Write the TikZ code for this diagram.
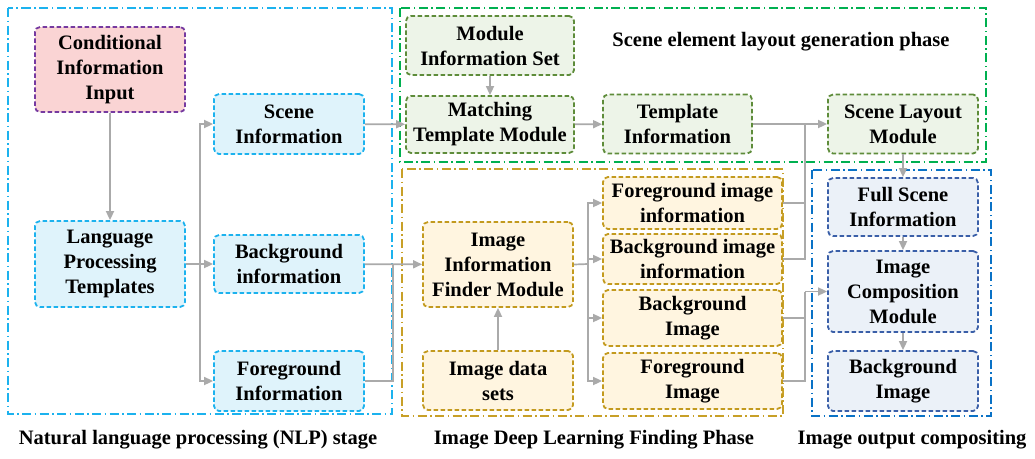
\documentclass[tikz,border=0pt]{standalone}
\usepackage{fontspec}
\setmainfont{Liberation Serif}
\usetikzlibrary{arrows.meta}
\definecolor{nlpline}{RGB}{28,178,238}
\definecolor{nlpfill}{RGB}{223,243,251}
\definecolor{condline}{RGB}{118,58,160}
\definecolor{condfill}{RGB}{250,212,212}
\definecolor{grnframe}{RGB}{0,176,80}
\definecolor{grnline}{RGB}{94,140,58}
\definecolor{grnfill}{RGB}{237,244,232}
\definecolor{ylwframe}{RGB}{200,160,40}
\definecolor{ylwline}{RGB}{195,154,30}
\definecolor{ylwfill}{RGB}{255,245,224}
\definecolor{bluframe}{RGB}{10,114,198}
\definecolor{bluline}{RGB}{58,95,168}
\definecolor{blufill}{RGB}{235,241,248}
\definecolor{conn}{RGB}{170,170,170}
\tikzset{
  txt/.style={font=\bfseries\fontsize{20.5}{25}\selectfont, align=center},
  block/.style={txt, rounded corners=5pt, line width=1.8pt,
    dash pattern=on 4.5pt off 2.5pt, inner sep=0pt},
  nlpbox/.style={block, draw=nlpline, fill=nlpfill},
  condbox/.style={block, draw=condline, fill=condfill},
  grnbox/.style={block, draw=grnline, fill=grnfill},
  ylwbox/.style={block, draw=ylwline, fill=ylwfill},
  blubox/.style={block, draw=bluline, fill=blufill},
  frame/.style={line width=1.8pt, dash pattern=on 9pt off 3.5pt on 1.5pt off 3.5pt},
  wire/.style={draw=conn, line width=1.7pt},
  arr/.style={wire, -{Triangle[length=9pt,width=8pt]}},
}
\begin{document}
\begin{tikzpicture}[x=1pt,y=-1pt]
\useasboundingbox (0,0) rectangle (1035,458);

% stage frames
\draw[frame, nlpline] (8,8) rectangle (392,414);
\draw[frame, grnframe] (400,8) rectangle (986,162);
\draw[frame, ylwframe] (402,169) rectangle (783,416);
\draw[frame, bluframe] (812,170) rectangle (991,416);

% NLP stage
\node[condbox, minimum width=150, minimum height=85] (cond) at (110,69.5) {Conditional\\Information\\Input};
\node[nlpbox, minimum width=150, minimum height=86] (lang) at (110,264) {Language\\Processing\\Templates};
\node[nlpbox, minimum width=150, minimum height=60] (scene) at (289,124) {Scene\\Information};
\node[nlpbox, minimum width=150, minimum height=58] (bginfo) at (289,264) {Background\\information};
\node[nlpbox, minimum width=150, minimum height=60] (fginfo) at (289,381) {Foreground\\Information};

% layout generation phase
\node[grnbox, minimum width=168, minimum height=59] (modset) at (490,45.5) {Module\\Information Set};
\node[grnbox, minimum width=168, minimum height=57] (match) at (490,124.5) {Matching\\Template Module};
\node[grnbox, minimum width=149, minimum height=59] (tmpl) at (677.5,124) {Template\\Information};
\node[grnbox, minimum width=150, minimum height=59] (layout) at (903,124) {Scene Layout\\Module};
\node[txt] (phase) at (781,42) {Scene element layout generation phase};

% image finding phase
\node[ylwbox, minimum width=150, minimum height=85] (finder) at (498,264.5) {Image\\Information\\Finder Module};
\node[ylwbox, minimum width=150, minimum height=59] (dataset) at (498,380.5) {Image data\\sets};
\node[ylwbox, minimum width=179, minimum height=52] (fgii) at (692.5,203) {Foreground image\\information};
\node[ylwbox, minimum width=179, minimum height=50] (bgii) at (692.5,259) {Background image\\information};
\node[ylwbox, minimum width=179, minimum height=56] (bgimg) at (692.5,318) {Background\\Image};
\node[ylwbox, minimum width=179, minimum height=56] (fgimg) at (692.5,381) {Foreground\\Image};

% output compositing
\node[blubox, minimum width=150, minimum height=58] (full) at (903,207) {Full Scene\\Information};
\node[blubox, minimum width=150, minimum height=81] (comp) at (903,291.5) {Image\\Composition\\Module};
\node[blubox, minimum width=150, minimum height=60] (outbg) at (903,381) {Background\\Image};

% stage captions
\node[txt] (capnlp) at (198,440) {Natural language processing (NLP) stage};
\node[txt] (capimg) at (594,440) {Image Deep Learning Finding Phase};
\node[txt] (capout) at (912,440) {Image output compositing};

% junction points
\coordinate (splitA) at (200,264);
\coordinate (joinA) at (393,264);
\coordinate (splitB) at (588,264);
\coordinate (joinB) at (805,124);
\coordinate (joinC) at (805,291.5);

% connectors
\draw[arr] (cond) -- (lang);
\draw[arr] (lang) -- (bginfo);
\draw[arr] (splitA) |- (scene.west);
\draw[arr] (splitA) |- (fginfo.west);
\draw[arr] (scene) -- (match);
\draw[arr] (bginfo) -- (finder);
\draw[wire] (fginfo.east) -| (joinA);
\draw[arr] (modset) -- (match);
\draw[arr] (match) -- (tmpl);
\draw[arr] (tmpl) -- (layout);
\draw[wire] (fgii.east) -| (joinB);
\draw[wire] (bgii.east) -| (joinB);
\draw[arr] (dataset) -- (finder);
\draw[wire] (finder.east) -- (splitB);
\draw[arr] (splitB) |- (fgii.west);
\draw[arr] (splitB) |- (bgii.west);
\draw[arr] (splitB) |- (bgimg.west);
\draw[arr] (splitB) |- (fgimg.west);
\draw[wire] (bgimg.east) -| (joinC);
\draw[wire] (fgimg.east) -| (joinC);
\draw[arr] (joinC) -- (comp.west);
\draw[arr] (layout) -- (full);
\draw[arr] (full) -- (comp);
\draw[arr] (comp) -- (outbg);
\end{tikzpicture}
\end{document}
